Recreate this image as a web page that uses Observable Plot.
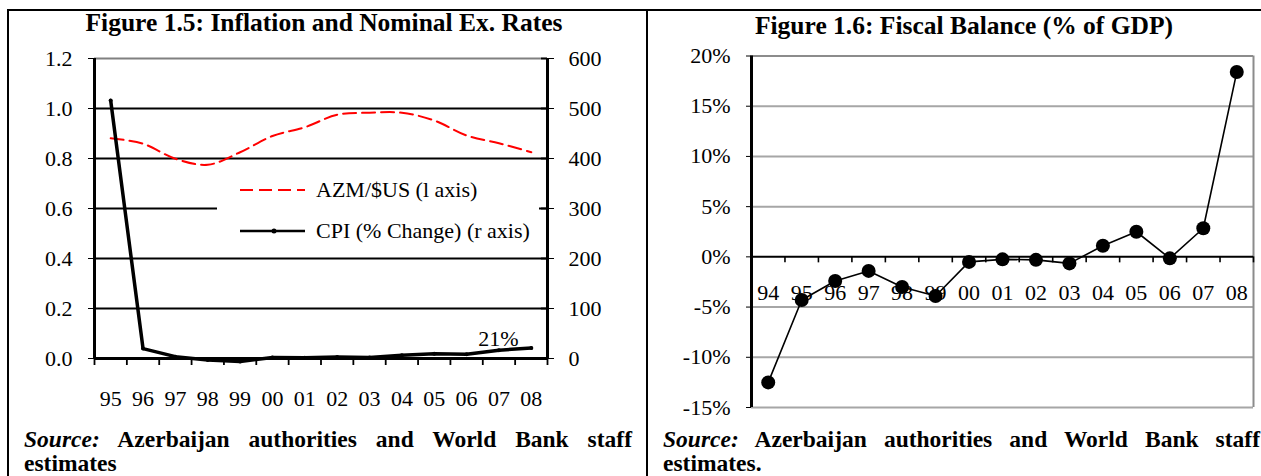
<!DOCTYPE html>
<html><head><meta charset="utf-8">
<script src="https://cdn.jsdelivr.net/npm/d3@7"></script>
<script src="https://cdn.jsdelivr.net/npm/@observablehq/plot@0.6"></script>
<style>
body{margin:0;background:#fff;overflow:hidden;font-family:"Liberation Serif","Times New Roman",serif;color:#000;}
#page{position:relative;width:1261px;height:476px;overflow:hidden;}
.abs{position:absolute;}
.title{font-weight:bold;font-size:25.5px;white-space:nowrap;transform:translateX(-50%);line-height:30px;}
.src{font-weight:bold;font-size:23.5px;line-height:26px;white-space:nowrap;}
.just{text-align:justify;text-align-last:justify;white-space:normal;}
.leg{background:#fff;font-size:22px;}
.legrow{position:absolute;left:0;height:26px;line-height:26px;white-space:nowrap;}
</style></head><body><div id="page">
<div class="abs" style="left:8px;top:9px;width:1253px;height:2px;background:#000"></div>
<div class="abs" style="left:7px;top:9px;width:2px;height:467px;background:#000"></div>
<div class="abs" style="left:646px;top:9px;width:2px;height:467px;background:#000"></div>
<div class="abs title" style="left:324px;top:8px">Figure 1.5: Inflation and Nominal Ex. Rates</div>
<div class="abs title" style="left:964px;top:11px">Figure 1.6: Fiscal Balance (% of GDP)</div>
<div id="c1" class="abs" style="left:0;top:40px"></div>
<div id="c1b" class="abs" style="left:0;top:40px"></div>
<div id="c2" class="abs" style="left:646px;top:40px"></div>
<div id="legend" class="abs leg" style="left:217px;top:167px;width:322px;height:82px"></div>
<div class="abs src just" style="left:24px;top:426px;width:608px"><i>Source:</i> Azerbaijan authorities and World Bank staff</div>
<div class="abs src" style="left:24px;top:450px">estimates</div>
<div class="abs src just" style="left:663px;top:426px;width:597px"><i>Source:</i> Azerbaijan authorities and World Bank staff</div>
<div class="abs src" style="left:663px;top:450px">estimates.</div>
</div>
<script>
// ---- Data ----
const years1 = ["95","96","97","98","99","00","01","02","03","04","05","06","07","08"];
const azmUsd = [0.881,0.859,0.799,0.775,0.825,0.890,0.925,0.975,0.983,0.983,0.952,0.892,0.861,0.825];
const cpiChange = [516,19.8,3.7,-3,-6,1.8,1.5,2.8,2.2,6.7,9.7,8.4,16.6,20.8];
const leftTicks = [0,0.2,0.4,0.6,0.8,1.0,1.2];
const rightTicks = [0,100,200,300,400,500,600];
const legendLabels = ["AZM/$US (l axis)","CPI (% Change) (r axis)"];

const years2 = ["94","95","96","97","98","99","00","01","02","03","04","05","06","07","08"];
const fiscal = [-12.5,-4.3,-2.4,-1.4,-3.0,-3.9,-0.5,-0.25,-0.3,-0.65,1.1,2.5,-0.15,2.85,18.4];
const fiscalTicks = [-15,-10,-5,0,5,10,15,20];

const FONT = "Liberation Serif, Times New Roman, serif";
const FS = 22;

// ---- Chart 1 (left axis) ----
const W1 = 640, H1 = 380, mL1 = 94, mR1 = 93, mT1 = 18, mB1 = 62;
const n1 = years1.length;
const pxPerY1 = (H1 - mT1 - mB1) / 1.2;
const pxPerX1 = (W1 - mL1 - mR1) / n1;
const azmData = azmUsd.map((v,i)=>({i,v}));
const lab1 = years1.map((t,i)=>({i,t}));
const b1 = d3.range(-0.5, n1, 1);
const st = {fontFamily:FONT, fontSize:FS+"px", color:"#000", background:"none", overflow:"visible"};

const c1 = Plot.plot({
  width:W1, height:H1, marginLeft:mL1, marginRight:mR1, marginTop:mT1, marginBottom:mB1,
  style:st,
  x:{domain:[-0.5, n1-0.5], axis:null},
  y:{domain:[0,1.2], axis:"left", ticks:leftTicks, tickSize:6, tickPadding:16, tickFormat:d=>d.toFixed(1), label:null},
  marks:[
    Plot.ruleY(leftTicks.filter(d=>d>0 && d<1.2), {stroke:"#000", strokeWidth:2}),
    Plot.ruleY([1.2], {stroke:"#808080", strokeWidth:2}),
    Plot.ruleX(b1, {x:d=>d, y1:0, y2:-7/pxPerY1, stroke:"#000", strokeWidth:1.8}),
    Plot.text(lab1, {x:"i", y:0, text:"t", dy:40, fontSize:FS}),
    Plot.line(azmData, {x:"i", y:"v", stroke:"#ff0000", strokeWidth:2, strokeDasharray:"13,6", curve:"catmull-rom"}),
    Plot.ruleX([-0.5], {stroke:"#000", strokeWidth:3}),
    Plot.ruleX([n1-0.5], {stroke:"#000", strokeWidth:3}),
    Plot.ruleY([0], {stroke:"#000", strokeWidth:3})
  ]
});
document.getElementById("c1").appendChild(c1);

// ---- Chart 1 (right axis overlay) ----
const cpiData = cpiChange.map((v,i)=>({i,v}));
const c1b = Plot.plot({
  width:W1, height:H1, marginLeft:mL1, marginRight:mR1, marginTop:mT1, marginBottom:mB1,
  style:st,
  x:{domain:[-0.5, n1-0.5], axis:null},
  y:{domain:[0,600], axis:"right", ticks:rightTicks, tickSize:6, tickPadding:15, tickFormat:d=>String(d), label:null},
  marks:[
    Plot.ruleY(rightTicks, {y:d=>d, x1:n1-0.5-6/pxPerX1, x2:n1-0.5, stroke:"#000", strokeWidth:1.8}),
    Plot.line(cpiData, {x:"i", y:"v", stroke:"#000", strokeWidth:3.5}),
    Plot.dot(cpiData, {x:"i", y:"v", r:2, fill:"#000"}),
    Plot.text([cpiData[n1-1]], {x:"i", y:"v", text:d=>Math.round(d.v)+"%", dx:-33, dy:-9, fontSize:FS})
  ]
});
c1b.style.pointerEvents = "none";
document.getElementById("c1b").appendChild(c1b);

// legend
const leg = document.getElementById("legend");
leg.innerHTML =
 `<div class="legrow" style="top:10px"><svg width="90" height="26" style="vertical-align:top"><line x1="23" x2="88" y1="13" y2="13" stroke="#ff0000" stroke-width="2" stroke-dasharray="13,6"/></svg><span style="position:absolute;left:99px">${legendLabels[0]}</span></div>`+
 `<div class="legrow" style="top:51px"><svg width="90" height="26" style="vertical-align:top"><line x1="23" x2="88" y1="13" y2="13" stroke="#000" stroke-width="2.5"/><circle cx="57" cy="13" r="2.5" fill="#000"/></svg><span style="position:absolute;left:99px">${legendLabels[1]}</span></div>`;

// ---- Chart 2 ----
const W2 = 615, H2 = 380, mL2 = 105, mR2 = 8, mT2 = 15.5, mB2 = 13;
const n2 = years2.length;
const pxPerY2 = (H2 - mT2 - mB2) / 35;
const fData = fiscal.map((v,i)=>({i,v,lab:years2[i]}));
const b2 = d3.range(-0.5, n2, 1);
const c2 = Plot.plot({
  width:W2, height:H2, marginLeft:mL2, marginRight:mR2, marginTop:mT2, marginBottom:mB2,
  style:st,
  x:{domain:[-0.5, n2-0.5], axis:null},
  y:{domain:[-15,20], axis:"left", ticks:fiscalTicks, tickSize:5, tickPadding:16, tickFormat:d=>d+"%", label:null},
  marks:[
    Plot.ruleY(fiscalTicks.filter(d=>d!==0 && d!==20), {stroke:"#a6a6a6", strokeWidth:2}),
    Plot.ruleY([20], {stroke:"#8c8c8c", strokeWidth:2}),
    Plot.ruleX([n2-0.5], {stroke:"#8c8c8c", strokeWidth:2}),
    Plot.ruleX(b2, {x:d=>d, y1:0, y2:-6/pxPerY2, stroke:"#000", strokeWidth:1.6}),
    Plot.ruleY([0], {stroke:"#000", strokeWidth:2}),
    Plot.ruleX([-0.5], {stroke:"#000", strokeWidth:3}),
    Plot.text(fData, {x:"i", y:0, text:"lab", dy:36, fontSize:FS}),
    Plot.line(fData, {x:"i", y:"v", stroke:"#000", strokeWidth:1.6}),
    Plot.dot(fData, {x:"i", y:"v", r:7, fill:"#000"})
  ]
});
document.getElementById("c2").appendChild(c2);
</script>
</body></html>
